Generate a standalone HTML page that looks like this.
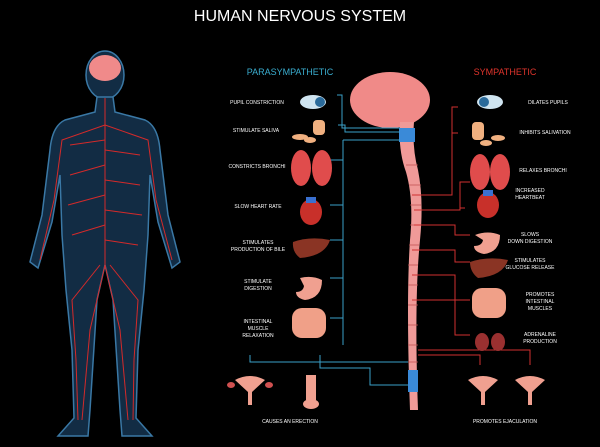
<!DOCTYPE html>
<html><head><style>
html,body{margin:0;padding:0;background:#000;}
svg{display:block;font-family:"Liberation Sans",sans-serif;}
</style></head><body>
<svg width="600" height="447" viewBox="0 0 600 447" xmlns="http://www.w3.org/2000/svg">
<rect width="600" height="447" fill="#000"/>
<text x="300" y="21" fill="#fff" font-size="16" text-anchor="middle">HUMAN NERVOUS SYSTEM</text>
<text x="290" y="75" fill="#3aaed0" font-size="9" text-anchor="middle">PARASYMPATHETIC</text>
<text x="505" y="75" fill="#e0342c" font-size="9" text-anchor="middle">SYMPATHETIC</text>

<!-- body silhouette -->
<g fill="#122c44" stroke="#3a78a5" stroke-width="1.5">
<ellipse cx="105" cy="75" rx="19" ry="24"/>
<path d="M97 97 L113 97 L115 112 L145 120 Q158 126 160 150 L168 215 L180 262 L172 268 L158 222 L150 175 L148 235 L144 290 L138 350 L136 418 L152 436 L122 436 L120 410 L113 300 L105 265 L97 300 L90 410 L88 436 L58 436 L74 418 L72 350 L66 290 L62 235 L60 175 L52 222 L38 268 L30 262 L42 215 L50 150 Q52 126 65 120 L95 112 Z"/>
</g>
<g stroke="#d42a2a" stroke-width="1" fill="none">
<path d="M105 98 L105 265"/>
<path d="M105 125 L62 140 L54 200 L40 260"/><path d="M105 125 L148 140 L156 200 L172 260"/>
<path d="M105 265 L90 330 L82 420"/><path d="M105 265 L120 330 L128 420"/>
<path d="M105 140 L70 145"/><path d="M105 150 L140 155"/><path d="M105 165 L70 175"/><path d="M105 180 L140 185"/>
<path d="M105 195 L68 205"/><path d="M105 210 L142 215"/><path d="M105 225 L72 235"/><path d="M105 240 L138 245"/>
<path d="M100 265 L72 300 L76 360 L78 420"/><path d="M110 265 L138 300 L134 360 L133 420"/>
</g>
<ellipse cx="105" cy="68" rx="16" ry="13" fill="#f08a8a"/>

<!-- brain + spine -->
<ellipse cx="390" cy="100" rx="40" ry="28" fill="#f08a88"/>
<path d="M400 122 Q398 150 406 172 Q414 200 410 240 Q406 300 410 410 L418 410 Q414 300 420 240 Q424 200 418 170 Q412 148 414 122 Z" fill="#f09a98"/>
<rect x="399" y="128" width="16" height="14" fill="#3a8ad8"/>
<rect x="408" y="370" width="10" height="22" fill="#3a8ad8"/>
<g stroke="#c05050" stroke-width="0.8">
<path d="M406 165 H418 M409 185 H421 M410 205 H421 M410 225 H421 M409 245 H419 M408 265 H418 M408 285 H418 M408 305 H418 M408 325 H418 M408 345 H418 M408 362 H418"/>
</g>

<!-- parasympathetic connectors -->
<g stroke="#3aa0c8" stroke-width="1" fill="none">
<path d="M337 95 L342 95 L342 128 L400 128"/>
<path d="M338 125 L345 125 L345 132 L400 132"/>
<path d="M343 140 L343 345"/><path d="M343 140 L400 140"/>
<path d="M330 160 L343 160 M330 205 L343 205 M330 240 L343 240 M330 278 L343 278 M330 318 L343 318"/>
<path d="M250 355 L250 362 L408 362"/><path d="M320 355 L320 368 L370 368 L370 385 L408 385"/>
</g>
<!-- sympathetic connectors -->
<g stroke="#d03030" stroke-width="1" fill="none">
<path d="M458 107 L452 107 L452 195 L412 195"/>
<path d="M458 133 L452 133"/>
<path d="M470 182 L460 182 L460 210 L414 210"/>
<path d="M465 208 L460 208"/>
<path d="M470 235 L455 235 L455 225 L414 225"/>
<path d="M470 262 L455 262 L455 250 L412 250"/>
<path d="M470 300 L455 300 L455 275 L412 275"/>
<path d="M470 335 L455 335 L455 300 L412 300"/>
<path d="M480 365 L480 355 L418 355"/><path d="M530 365 L530 350 L418 350"/>
</g>

<!-- left organs -->
<ellipse cx="313" cy="102" rx="13" ry="7" fill="#cfe4f0"/><circle cx="320" cy="102" r="5" fill="#2a6a9a"/>
<rect x="313" y="120" width="12" height="15" rx="4" fill="#f0b080"/><ellipse cx="300" cy="137" rx="8" ry="3" fill="#f0b080"/><ellipse cx="310" cy="140" rx="6" ry="3" fill="#f0b080"/>
<ellipse cx="301" cy="168" rx="10" ry="18" fill="#e04c4c"/><ellipse cx="322" cy="168" rx="10" ry="18" fill="#e04c4c"/>
<ellipse cx="311" cy="212" rx="11" ry="13" fill="#c8302a"/><rect x="306" y="197" width="10" height="6" fill="#3a70d0"/>
<path d="M293 242 Q310 236 330 240 Q325 256 300 258 Q292 252 293 242Z" fill="#8a3424"/>
<path d="M300 278 Q312 275 322 280 Q322 298 305 300 Q296 298 296 292 Q303 292 304 286Z" fill="#f0a090"/>
<rect x="292" y="308" width="34" height="30" rx="10" fill="#f0a088"/>
<g fill="#fff" font-size="5" text-anchor="middle">
<text x="257" y="104">PUPIL CONSTRICTION</text>
<text x="256" y="132">STIMULATE SALIVA</text>
<text x="257" y="168">CONSTRICTS BRONCHI</text>
<text x="258" y="208">SLOW HEART RATE</text>
<text x="258" y="244">STIMULATES</text><text x="258" y="251">PRODUCTION OF BILE</text>
<text x="258" y="283">STIMULATE</text><text x="258" y="290">DIGESTION</text>
<text x="258" y="323">INTESTINAL</text><text x="258" y="330">MUSCLE</text><text x="258" y="337">RELAXATION</text>
<text x="290" y="423">CAUSES AN ERECTION</text>
<text x="505" y="423">PROMOTES EJACULATION</text>
</g>
<!-- right organs -->
<ellipse cx="490" cy="102" rx="13" ry="7" fill="#cfe4f0"/><circle cx="484" cy="102" r="5" fill="#2a6a9a"/>
<rect x="472" y="122" width="12" height="18" rx="4" fill="#f0b080"/><ellipse cx="486" cy="143" rx="6" ry="3" fill="#f0b080"/><ellipse cx="498" cy="138" rx="7" ry="3" fill="#f0b080"/>
<ellipse cx="480" cy="172" rx="10" ry="18" fill="#e04c4c"/><ellipse cx="500" cy="172" rx="10" ry="18" fill="#e04c4c"/>
<ellipse cx="488" cy="205" rx="11" ry="13" fill="#c8302a"/><rect x="483" y="190" width="10" height="6" fill="#3a70d0"/>
<path d="M475 235 Q488 230 500 235 Q500 252 484 254 Q474 252 474 246 Q482 246 483 240Z" fill="#f0a090"/>
<path d="M470 262 Q488 256 508 260 Q503 276 478 278 Q470 272 470 262Z" fill="#8a3424"/>
<rect x="472" y="288" width="34" height="30" rx="10" fill="#f0a088"/>
<ellipse cx="482" cy="342" rx="7" ry="9" fill="#9a3030"/><ellipse cx="498" cy="342" rx="7" ry="9" fill="#9a3030"/>
<g fill="#fff" font-size="5" text-anchor="middle">
<text x="548" y="104">DILATES PUPILS</text>
<text x="545" y="134">INHIBITS SALIVATION</text>
<text x="543" y="172">RELAXES BRONCHI</text>
<text x="530" y="192">INCREASED</text><text x="530" y="199">HEARTBEAT</text>
<text x="530" y="236">SLOWS</text><text x="530" y="243">DOWN DIGESTION</text>
<text x="530" y="262">STIMULATES</text><text x="530" y="269">GLUCOSE RELEASE</text>
<text x="540" y="296">PROMOTES</text><text x="540" y="303">INTESTINAL</text><text x="540" y="310">MUSCLES</text>
<text x="540" y="336">ADRENALINE</text><text x="540" y="343">PRODUCTION</text>
</g>
<g fill="#f0a090">
<path d="M235 380 Q250 372 265 380 L252 392 L252 405 L248 405 L248 392Z"/>
<path d="M468 380 Q483 372 498 380 L485 392 L485 405 L481 405 L481 392Z"/>
<path d="M515 380 Q530 372 545 380 L532 392 L532 405 L528 405 L528 392Z"/>
<path d="M306 375 L316 375 L316 400 L306 400Z"/><ellipse cx="311" cy="404" rx="8" ry="5"/>
</g>
<ellipse cx="231" cy="385" rx="4" ry="3" fill="#d05050"/><ellipse cx="269" cy="385" rx="4" ry="3" fill="#d05050"/>
</svg>
</body></html>
